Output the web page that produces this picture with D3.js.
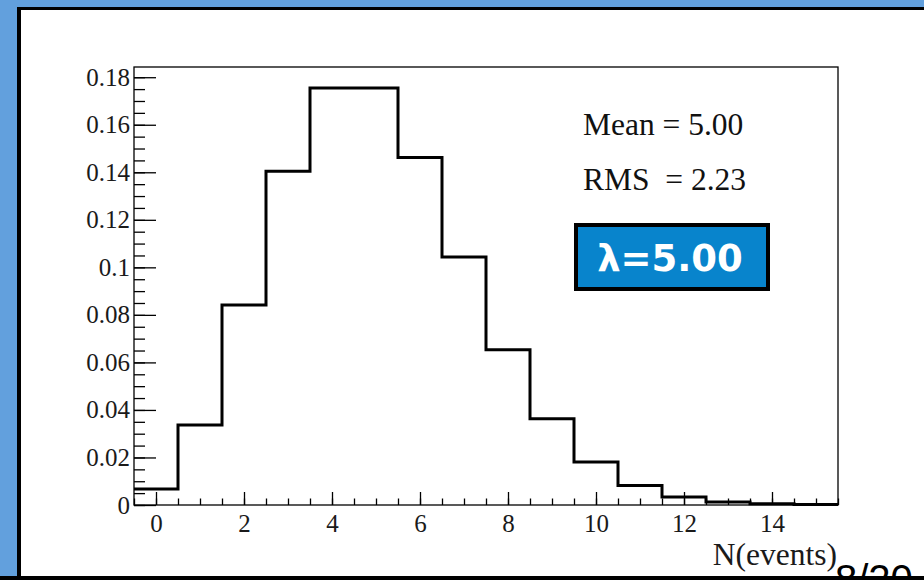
<!DOCTYPE html>
<html>
<head>
<meta charset="utf-8">
<script src="https://cdn.jsdelivr.net/npm/d3@7"></script>
<style>
  html, body { margin: 0; padding: 0; background: #62a0dd; }
  svg { display: block; }
</style>
</head>
<body>
<div id="chart"></div>
<script>
  "use strict"

  // poisson histogram, lambda = 5
  var bins = [0, 1, 2, 3, 4, 5, 6, 7, 8, 9, 10, 11, 12, 13, 14, 15]
  var probs = [0.0067, 0.0337, 0.0842, 0.1404, 0.1755, 0.1755, 0.1462, 0.1044,
               0.0653, 0.0363, 0.0181, 0.0082, 0.0034, 0.0013, 0.0005, 0.0002]

  var xTicks = [0, 2, 4, 6, 8, 10, 12, 14]
  var xMinor = d3.range(-0.5, 15.51, 0.5)
  var yTicks = [0, 0.02, 0.04, 0.06, 0.08, 0.1, 0.12, 0.14, 0.16, 0.18]
  var yTickLabels = ["0", "0.02", "0.04", "0.06", "0.08", "0.1", "0.12", "0.14", "0.16", "0.18"]
  var yMinor = d3.range(0, 0.1801, 0.005)

  var statsLines = ["Mean = 5.00", "RMS  = 2.23"]
  var lambdaLabel = "\u03bb=5.00"
  var xTitle = "N(events)"
  var pageLabel = "8/20"

  var width = 924
    , height = 580
    , frame = { left: 134, right: 838, top: 67, bottom: 505 }
    , serif = "'Liberation Serif', 'Times New Roman', serif"

  var svg = d3.select("#chart")
    .append("svg")
    .attr("width", width)
    .attr("height", height)

  // slide background + white panel
  svg.append("rect")
    .attr("width", width).attr("height", height)
    .attr("fill", "#62a0dd")
  svg.append("rect")
    .attr("x", 17).attr("y", 7)
    .attr("width", width).attr("height", height)
    .attr("fill", "#000")
  svg.append("rect")
    .attr("x", 21).attr("y", 10)
    .attr("width", width).attr("height", height)
    .attr("fill", "#fff")

  var x = d3.scaleLinear()
    .domain([-0.5, 15.5])
    .range([frame.left, frame.right])

  var y = d3.scaleLinear()
    .domain([0, 0.1843])
    .range([frame.bottom, frame.top])

  // minor ticks first
  svg.append("g")
    .attr("transform", "translate(" + frame.left + ",0)")
    .call(d3.axisLeft(y).tickValues(yMinor).tickSize(-11).tickSizeOuter(0).tickFormat(""))
    .call(function (g) { g.select(".domain").remove() })
    .selectAll("line").attr("stroke-width", 1.3)

  svg.append("g")
    .attr("transform", "translate(0," + frame.bottom + ")")
    .call(d3.axisBottom(x).tickValues(xMinor).tickSize(-6.5).tickSizeOuter(0).tickFormat(""))
    .call(function (g) { g.select(".domain").remove() })
    .selectAll("line").attr("stroke-width", 1.3)

  // major ticks + labels
  var yAxis = svg.append("g")
    .attr("transform", "translate(" + frame.left + ",0)")
    .call(d3.axisLeft(y).tickValues(yTicks).tickSize(-22).tickSizeOuter(0).tickPadding(4)
      .tickFormat(function (d, i) { return yTickLabels[i] }))
  yAxis.select(".domain").remove()
  yAxis.selectAll("line").attr("stroke-width", 1.3)
  yAxis.selectAll("text")
    .attr("font-family", serif)
    .attr("font-size", 25)
    .attr("fill", "#1a1a1a")

  var xAxis = svg.append("g")
    .attr("transform", "translate(0," + frame.bottom + ")")
    .call(d3.axisBottom(x).tickValues(xTicks).tickSize(-13).tickSizeOuter(0).tickPadding(9))
  xAxis.select(".domain").remove()
  xAxis.selectAll("line").attr("stroke-width", 1.3)
  xAxis.selectAll("text")
    .attr("font-family", serif)
    .attr("font-size", 25)
    .attr("fill", "#1a1a1a")

  // frame
  svg.append("rect")
    .attr("x", frame.left).attr("y", frame.top)
    .attr("width", frame.right - frame.left)
    .attr("height", frame.bottom - frame.top)
    .attr("fill", "none")
    .attr("stroke", "#000")
    .attr("stroke-width", 1.3)

  // histogram outline: each bin as a flat top, joined by vertical steps
  var steps = []
  bins.forEach(function (b, i) {
    steps.push([b - 0.5, probs[i]])
    steps.push([b + 0.5, probs[i]])
  })

  svg.append("path")
    .datum(steps)
    .attr("fill", "none")
    .attr("stroke", "#000")
    .attr("stroke-width", 3)
    .attr("stroke-linejoin", "miter")
    .attr("d", d3.line()
      .x(function (d) { return x(d[0]) })
      .y(function (d) { return y(d[1]) }))

  // stats text
  svg.selectAll("text.stats")
    .data(statsLines)
    .enter().append("text")
      .attr("class", "stats")
      .attr("x", 583)
      .attr("y", function (d, i) { return 135 + i * 55 })
      .attr("font-family", serif)
      .attr("font-size", 31.5)
      .attr("fill", "#111")
      .style("white-space", "pre")
      .text(function (d) { return d })

  // lambda box
  svg.append("rect")
    .attr("x", 576).attr("y", 225)
    .attr("width", 192).attr("height", 64)
    .attr("fill", "#0884cc")
    .attr("stroke", "#000")
    .attr("stroke-width", 4)
  svg.append("text")
    .attr("x", 670).attr("y", 271)
    .attr("text-anchor", "middle")
    .attr("font-family", "'DejaVu Sans', Verdana, sans-serif")
    .attr("font-weight", "bold")
    .attr("font-size", 37)
    .attr("fill", "#fff")
    .text(lambdaLabel)

  // axis title
  svg.append("text")
    .attr("x", 837).attr("y", 565)
    .attr("text-anchor", "end")
    .attr("font-family", serif)
    .attr("font-size", 31.5)
    .attr("fill", "#1a1a1a")
    .text(xTitle)

  // page number, cut off by the bottom band as on the slide
  svg.append("text")
    .attr("x", 835).attr("y", 593)
    .attr("font-family", "'Liberation Sans', Arial, sans-serif")
    .attr("font-size", 40)
    .attr("fill", "#000")
    .text(pageLabel)

  svg.append("rect")
    .attr("x", 0).attr("y", 576)
    .attr("width", width).attr("height", 4)
    .attr("fill", "#000")
</script>
</body>
</html>
